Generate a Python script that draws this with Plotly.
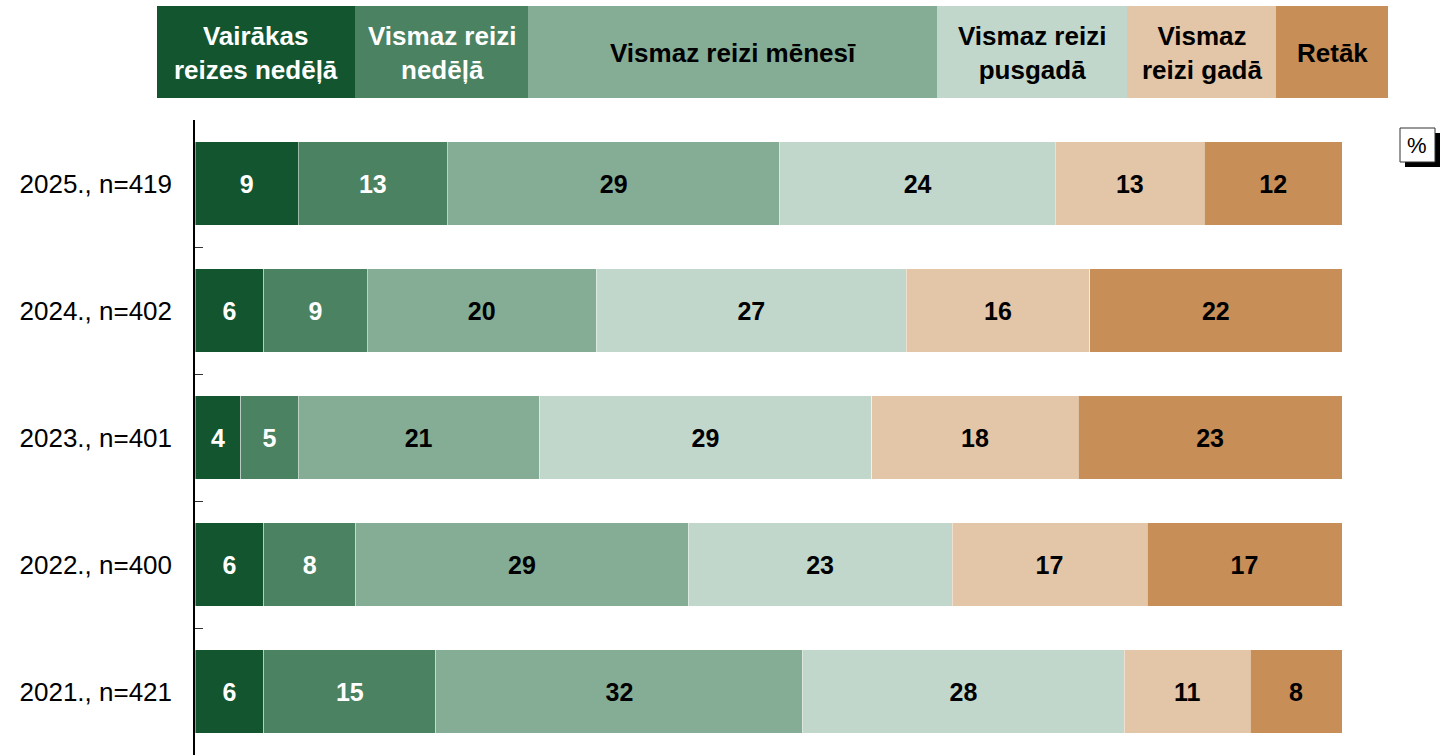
import plotly.graph_objects as go

# ---- data ----
years = ["2025., n=419", "2024., n=402", "2023., n=401", "2022., n=400", "2021., n=421"]
series_names = ["Vairākas<br>reizes nedēļā", "Vismaz reizi<br>nedēļā", "Vismaz reizi mēnesī",
                "Vismaz reizi<br>pusgadā", "Vismaz<br>reizi gadā", "Retāk"]
several_per_week = [9, 6, 4, 6, 6]
once_per_week = [13, 9, 5, 8, 15]
once_per_month = [29, 20, 21, 29, 32]
once_half_year = [24, 27, 29, 23, 28]
once_per_year = [13, 16, 18, 17, 11]
rarer = [12, 22, 23, 17, 8]

values = [several_per_week, once_per_week, once_per_month, once_half_year, once_per_year, rarer]
colors = ["#12552F", "#4A8262", "#85AD96", "#C2D7CC", "#E3C5A8", "#C78E57"]
text_colors = ["white", "white", "black", "black", "black", "black"]

W, H = 1440, 755
L, R, T, B = 195, 1342, 120, 755
FONT = "Liberation Sans, Arial"

def px(x):
    return (x - L) / (R - L)

def py(y):
    return (B - y) / (B - T)

fig = go.Figure()
for name, vals, col, tcol in zip(series_names, values, colors, text_colors):
    fig.add_trace(go.Bar(
        y=years, x=vals, orientation="h", name=name,
        marker=dict(color=col, line=dict(color="rgba(255,255,255,0.45)", width=1)),
        text=[str(v) for v in vals], textposition="inside", insidetextanchor="middle",
        textangle=0, constraintext="none",
        textfont=dict(family=FONT, size=25, color=tcol, weight="bold"),
        showlegend=False,
    ))

# header legend boxes
edges = [157, 355, 528, 937, 1127, 1276, 1388]
shapes = []
annotations = []
for i, (name, col, tcol) in enumerate(zip(series_names, colors, text_colors)):
    x0, x1 = edges[i], edges[i + 1]
    shapes.append(dict(type="rect", xref="paper", yref="paper",
                       x0=px(x0), x1=px(x1), y0=py(98), y1=py(6),
                       fillcolor=col, line=dict(width=0)))
    annotations.append(dict(xref="paper", yref="paper", x=px((x0 + x1) / 2), y=py(53),
                            text=name, showarrow=False, xanchor="center", yanchor="middle",
                            font=dict(family=FONT, size=26, color=tcol, weight="bold")))

# % box with shadow
shapes.append(dict(type="rect", xref="paper", yref="paper",
                   x0=px(1405), x1=px(1440), y0=py(167), y1=py(133),
                   fillcolor="black", line=dict(width=0)))
shapes.append(dict(type="rect", xref="paper", yref="paper",
                   x0=px(1400), x1=px(1435), y0=py(162), y1=py(128),
                   fillcolor="white", line=dict(color="#333333", width=1)))
annotations.append(dict(xref="paper", yref="paper", x=px(1417.5), y=py(145.5),
                        text="%", showarrow=False, xanchor="center", yanchor="middle",
                        font=dict(family=FONT, size=22, color="black")))

fig.update_layout(
    barmode="stack", bargap=0.34,
    width=W, height=H,
    margin=dict(l=L, r=W - R, t=T, b=H - B, pad=0),
    plot_bgcolor="white", paper_bgcolor="white",
    shapes=shapes, annotations=annotations,
    xaxis=dict(range=[0, 100], visible=False, fixedrange=True),
    yaxis=dict(autorange="reversed", showline=True, linecolor="black", linewidth=1.5,
               ticks="inside", tickson="boundaries", ticklen=8, tickcolor="#333333",
               tickwidth=1, ticklabelstandoff=16,
               tickfont=dict(family=FONT, size=26, color="black"),
               showgrid=False, zeroline=False, fixedrange=True),
)

fig.write_html("out.html", post_script="document.body.style.margin='0';",
               config={"displayModeBar": False})
